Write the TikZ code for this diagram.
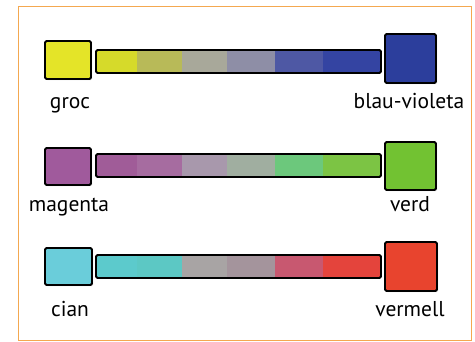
\documentclass[tikz,border=0pt]{standalone}
\usepackage{fontspec}
\setmainfont{PT Sans}
\usetikzlibrary{positioning}
\usetikzlibrary{shadows}

% square colours
\definecolor{cgroc}{HTML}{E4E428}
\definecolor{cblau}{HTML}{2C3E9C}
\definecolor{cmagenta}{HTML}{A05A9C}
\definecolor{cverd}{HTML}{72C232}
\definecolor{ccian}{HTML}{6ACDDA}
\definecolor{cvermell}{HTML}{E8442E}
\definecolor{frameorange}{HTML}{F4A850}

\tikzset{
  colsq/.style={draw=black, line width=1.8pt, rounded corners=1.5pt, inner sep=0pt,
    drop shadow={shadow xshift=1.2pt, shadow yshift=-1.2pt, opacity=.35}},
  barframe/.style={draw=black, line width=1.8pt, rounded corners=1.5pt},
  lbl/.style={font=\fontsize{21.5}{21.5}\selectfont, inner sep=0pt, anchor=base}
}

\begin{document}
\begin{tikzpicture}[x=1pt, y=-1pt]

\useasboundingbox (0,0) rectangle (475,341);
\draw[frameorange, line width=0.8pt] (18,6) rectangle (471,340);

% end squares
\node[colsq, fill=cgroc, minimum width=46pt, minimum height=38pt] (groc) at (68,60) {};
\node[colsq, fill=cblau, minimum width=51pt, minimum height=49pt] (blau) at (410.5,58.5) {};
\node[colsq, fill=cmagenta, minimum width=46pt, minimum height=37pt] (magenta) at (68,166.5) {};
\node[colsq, fill=cverd, minimum width=51pt, minimum height=48pt] (verd) at (410.5,166) {};
\node[colsq, fill=ccian, minimum width=47pt, minimum height=37pt] (cian) at (68.5,266.5) {};
\node[colsq, fill=cvermell, minimum width=52pt, minimum height=49pt] (vermell) at (411,266.5) {};

% bars
\foreach \y/\cols in {
  50/{D6DA2A,B8BA58,A8A89A,8E8EA6,4E58A4,3444A2},
  154/{A05C98,A66CA0,A898AC,A0AEA0,6CC87C,7CC444},
  255/{5CCACC,5CC8C4,A8A4A4,A4949C,C85870,E4443C}}{
  \foreach \c [count=\i] in \cols {
    \pgfmathsetmacro{\xa}{{97,137,182,227,275,323,380}[\i-1]}
    \pgfmathsetmacro{\xb}{{97,137,182,227,275,323,380}[\i]}
    \definecolor{segcol}{HTML}{\c}
    \fill[segcol] (\xa,\y) rectangle (\xb,\y+23);
  }
  \draw[barframe] (96,\y) rectangle (381,\y+23);
}

% labels
\node[lbl] (tgroc) at (70,108) {groc};
\node[lbl] (tblau) at (409,108) {blau-violeta};
\node[lbl] (tmagenta) at (69,211) {magenta};
\node[lbl] (tverd) at (410,211) {verd};
\node[lbl] (tcian) at (70,316) {cian};
\node[lbl] (tvermell) at (410,316) {vermell};

\end{tikzpicture}
\end{document}
